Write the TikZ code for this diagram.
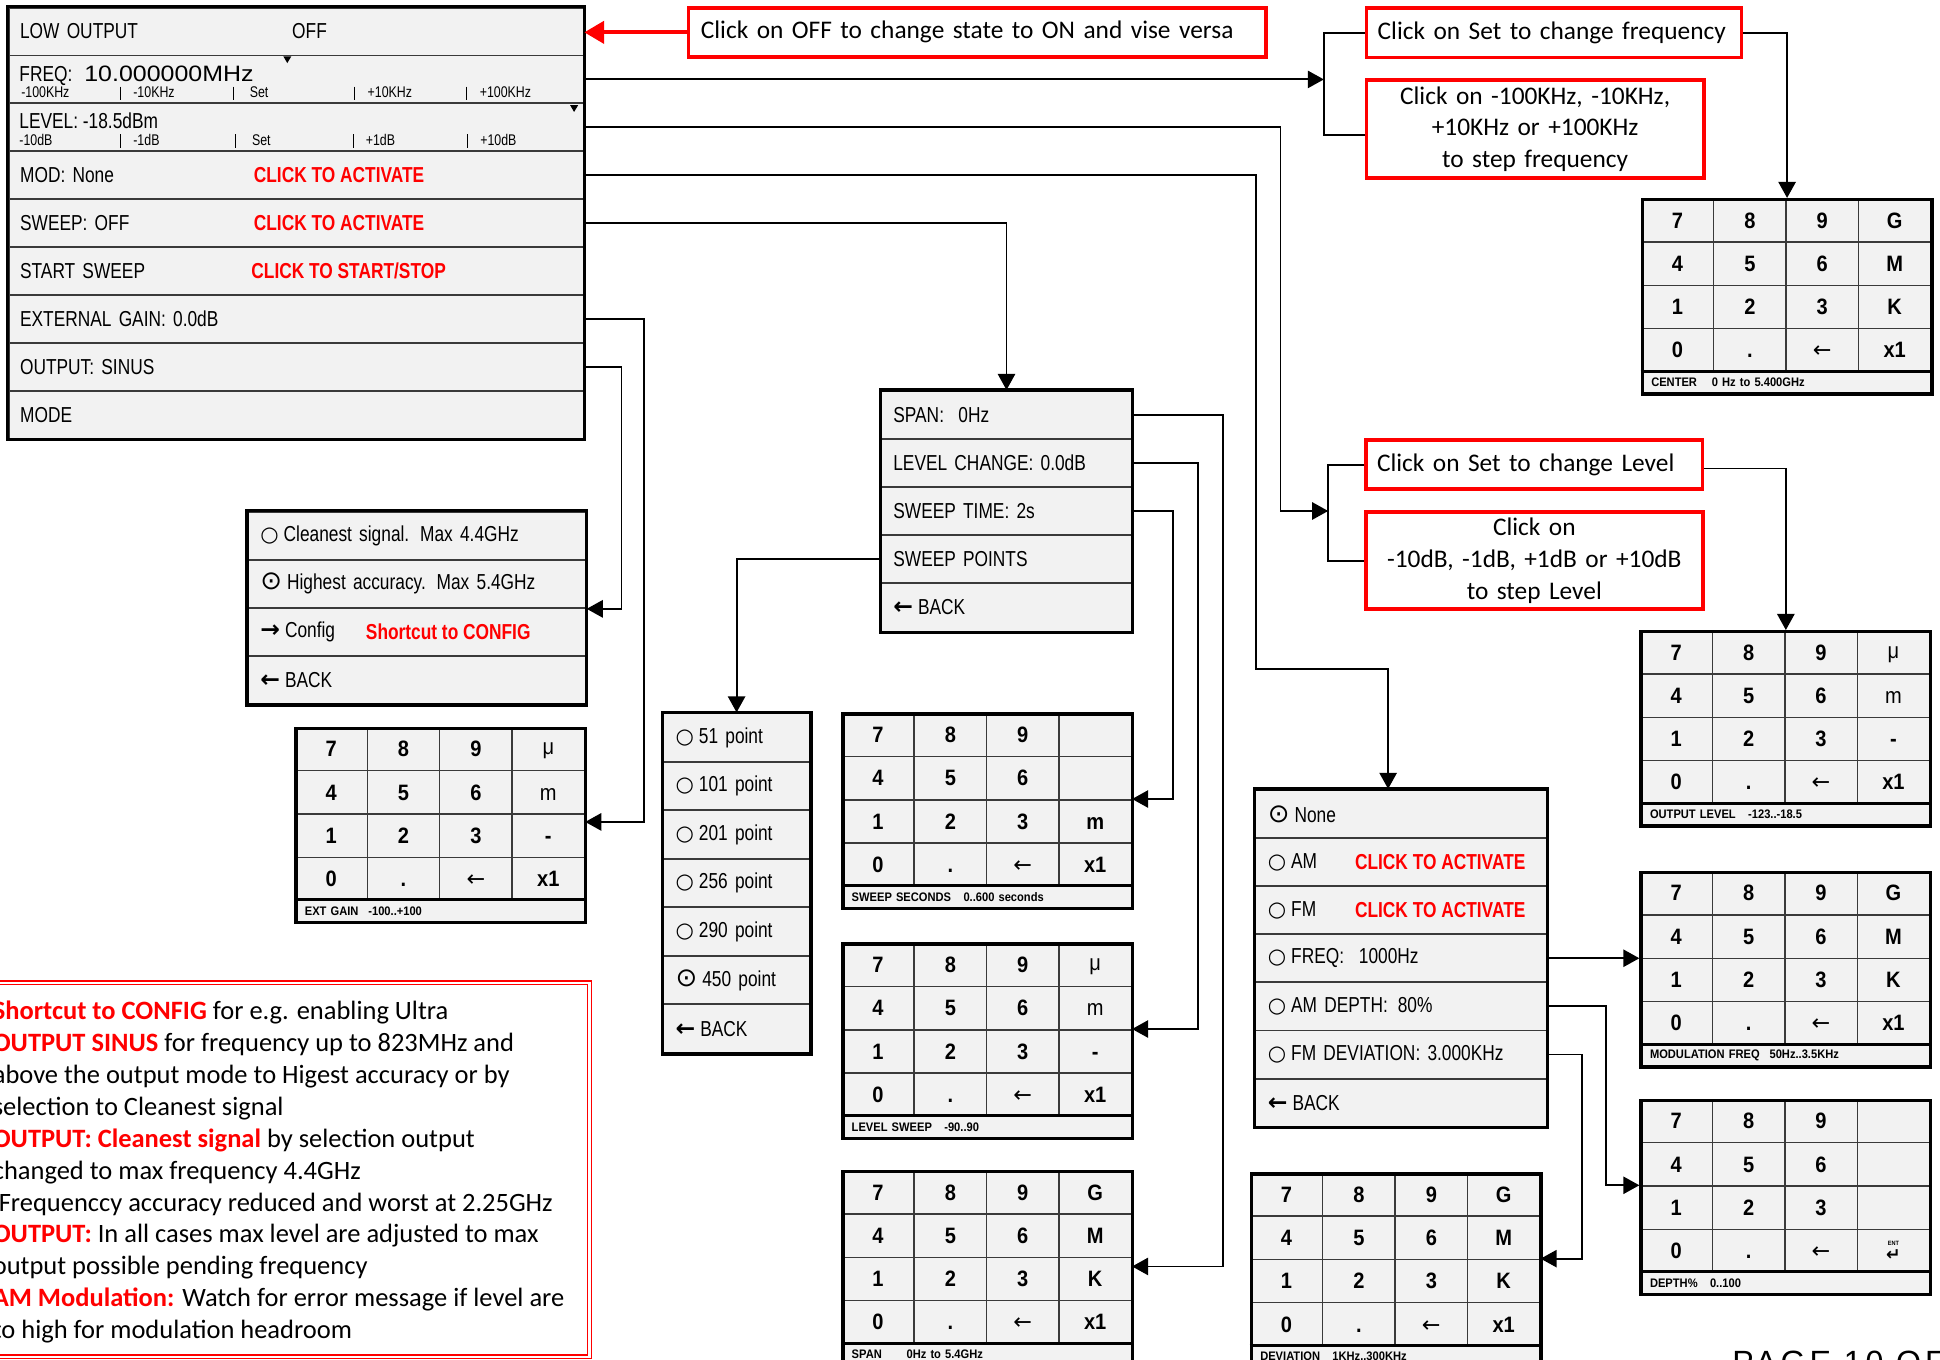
\documentclass[tikz,border=0pt]{standalone}
\usepackage{fontspec}
\setmainfont{Liberation Sans}
\newfontfamily\narrowfont[FakeStretch=0.8]{Liberation Sans}
\newfontfamily\widefont[FakeStretch=1.12]{Liberation Sans}
\newfontfamily\keyfam[FakeStretch=0.9]{Liberation Sans}
\newfontfamily\calibri{Carlito}
\newfontfamily\symfont{DejaVu Sans}
\usetikzlibrary{arrows.meta,calc}

\definecolor{rowfill}{HTML}{F2F2F2}
\definecolor{rowline}{HTML}{3A3A3A}
\definecolor{clickred}{HTML}{FF0000}

\newcommand\menufont{\narrowfont\fontsize{17.5}{20}\selectfont}
\newcommand\subfont{\narrowfont\fontsize{12.5}{14}\selectfont}
\newcommand\keyfont{\keyfam\bfseries\fontsize{18}{20}\selectfont}
\newcommand\footfont{\keyfam\bfseries\fontsize{10}{11}\selectfont}
\newcommand\callfont{\calibri\fontsize{20.5}{25.6}\selectfont}
\newcommand\notefont{\calibri\fontsize{21.4}{25.8}\selectfont}
\newcommand\radoff{{\symfont\fontsize{17}{17}\selectfont ○}\hspace{4pt}}
\newcommand\radon{{\symfont\fontsize{21}{17}\selectfont ⊙}\hspace{4pt}}
\newcommand\backarr{{\symfont\bfseries\fontsize{19}{17}\selectfont ←}\hspace{4pt}}
\newcommand\fwdarr{{\symfont\bfseries\fontsize{19}{17}\selectfont →}\hspace{4pt}}
\newcommand\keyarr{{\symfont\mdseries\fontsize{18}{18}\selectfont ←}}
\newcommand\litekey[1]{{\mdseries #1}}
\newcommand\entkey{\shortstack{{\fontsize{5}{5}\selectfont ENT}\\{\symfont\bfseries\fontsize{14}{14}\selectfont ↵}}}
\newcommand\redpart[1]{{\color{clickred}\bfseries #1}}

% keypad: name, x, y, fourth column (4 keys), footer
\newcommand\keypadgrid[8]{%
  \foreach \ka/\kb/\kc/\kd [count=\kr] in {7/8/9/{#4},4/5/6/{#5},1/2/3/{#6},0/./{\keyarr}/{#7}}{
    \node[padkey] (#1-\kr-1) at ($(#2,#3)+(0,{(\kr-1)*35})$) {\vphantom{0}\ka};
    \node[padkey] (#1-\kr-2) at ($(#2,#3)+(58.5,{(\kr-1)*35})$) {\vphantom{0}\kb};
    \node[padkey] (#1-\kr-3) at ($(#2,#3)+(117,{(\kr-1)*35})$) {\vphantom{0}\kc};
    \node[padkey] (#1-\kr-4) at ($(#2,#3)+(175.5,{(\kr-1)*35})$) {\vphantom{0}\kd};
  }
  \node[padfoot] (#1-foot) at ($(#2,#3)+(0,140)$) {#8};
  \draw[line width=2.4pt] (#1-foot.north west) -- (#1-foot.north east);
  \node[padframe] (#1) at (#2,#3) {};
}

\tikzset{
  wire/.style={line width=1.5pt},
  conn/.style={wire, -{Triangle[length=13pt,width=14pt]}},
  redarrow/.style={draw=clickred, line width=3pt, -{Triangle[length=16pt,width=18pt]}},
  row/.style={draw=rowline, line width=1.5pt, fill=rowfill, anchor=north west, inner ysep=0pt, align=left, font=\menufont},
  mainrow/.style={row, inner xsep=9.3pt, text width=446pt, minimum height=38.7pt},
  outrow/.style={row, inner xsep=10pt, text width=253pt, minimum height=38.9pt},
  swrow/.style={row, inner xsep=9.6pt, text width=182.9pt, minimum height=38.9pt},
  ptsrow/.style={row, inner xsep=10pt, text width=98.6pt, minimum height=39.2pt},
  modrow/.style={row, inner xsep=10pt, text width=215.4pt, minimum height=38.9pt},
  menuedge/.style={line width=2.8pt},
  lbl/.style={inner sep=0pt, anchor=base west, font=\menufont},
  sublbl/.style={inner sep=0pt, anchor=base west, font=\subfont},
  redlbl/.style={inner sep=0pt, anchor=west, font=\menufont\bfseries, text=clickred},
  padkey/.style={draw=rowline, line width=1.2pt, fill=rowfill, anchor=north west, minimum width=58.5pt, minimum height=35pt, inner sep=0pt, font=\keyfont},
  padfoot/.style={draw=black, line width=1.2pt, fill=rowfill, anchor=north west, minimum height=17pt, inner xsep=8pt, inner ysep=0pt, text width=218pt, align=left, font=\footfont},
  padframe/.style={draw=black, line width=2.8pt, anchor=north west, minimum width=234pt, minimum height=157pt, inner sep=0pt},
  redbox/.style={draw=clickred, line width=3pt, anchor=north west, inner ysep=0pt, font=\callfont},
  noteline/.style={inner sep=0pt, anchor=base west, font=\notefont},
}

\begin{document}
\begin{tikzpicture}[x=1pt, y=-1pt]
\useasboundingbox (0,0) rectangle (1568,1099);
\clip (0,0) rectangle (1568,1099);

% main menu
\foreach \txt [count=\i] in {LOW OUTPUT,{},{},MOD: None,SWEEP: OFF,START SWEEP,EXTERNAL GAIN: 0.0dB,OUTPUT: SINUS,MODE}
  \node[mainrow] (m\i) at (6.2,{5.4+(\i-1)*38.7}) {\txt};
\draw[menuedge] (m1.north west) rectangle (m9.south east);
\node[lbl, anchor=west] (offlbl) at ($(m1.west)+(229.8,0)$) {OFF};
\node[lbl] (frqlbl) at (15.5,65.5) {FREQ:};
\node[lbl, font=\widefont\fontsize{18}{20}\selectfont] (frqval) at (68,65.5) {10.000000MHz};
\foreach \sx/\st [count=\i] in {17/-100KHz,107.6/-10KHz,201.7/Set,297/+10KHz,387.6/+100KHz}
  \node[sublbl] (fs\i) at (\sx,79) {\st};
\foreach \bx in {97.4,188.7,286.8,377.4}
  \draw[line width=0.9pt] (\bx,70) -- (\bx,81);
\node[lbl] (lvllbl) at (15.5,103.7) {LEVEL: -18.5dBm};
\foreach \sx/\st [count=\i] in {15.5/-10dB,107.6/-1dB,203.5/Set,295.5/+1dB,388/+10dB}
  \node[sublbl] (ls\i) at (\sx,117.7) {\st};
\foreach \bx in {97.4,190,286,378}
  \draw[line width=0.9pt] (\bx,108.5) -- (\bx,120);
\fill (229,45.5) -- (235.5,45.5) -- (232.2,51) -- cycle;
\fill (460.8,85) -- (467.3,85) -- (464,90.5) -- cycle;
\node[redlbl] (modred) at ($(m4.west)+(198.8,0)$) {CLICK TO ACTIVATE};
\node[redlbl] (swred) at ($(m5.west)+(198.8,0)$) {CLICK TO ACTIVATE};
\node[redlbl] (startred) at ($(m6.west)+(196.8,0)$) {CLICK TO START/STOP};

% output menu
\foreach \txt [count=\i] in {\radoff Cleanest signal. Max 4.4GHz,\radon Highest accuracy. Max 5.4GHz,\fwdarr Config,\backarr BACK}
  \node[outrow] (out\i) at (199.7,{412.8+(\i-1)*38.9}) {\txt};
\draw[menuedge] (out1.north west) rectangle (out4.south east);
\node[redlbl] (cfgred) at ($(out3.west)+(95.9,0)$) {Shortcut to CONFIG};

% sweep menu
\foreach \txt [count=\i] in {SPAN:\ \ 0Hz,LEVEL CHANGE: 0.0dB,SWEEP TIME: 2s,SWEEP POINTS,\backarr BACK}
  \node[swrow] (sw\i) at (711.7,{315.2+(\i-1)*38.9}) {\txt};
\draw[menuedge] (sw1.north west) rectangle (sw5.south east);

% sweep points
\foreach \txt [count=\i] in {\radoff 51 point,\radoff 101 point,\radoff 201 point,\radoff 256 point,\radoff 290 point,\radon 450 point,\backarr BACK}
  \node[ptsrow] (pts\i) at (535.3,{575.8+(\i-1)*39.2}) {\txt};
\draw[menuedge] (pts1.north west) rectangle (pts7.south east);

% modulation menu
\foreach \txt [count=\i] in {\radon None,\radoff AM,\radoff FM,\radoff FREQ:\hspace{12pt}1000Hz,\radoff AM DEPTH:\hspace{8pt}80\%,\radoff FM DEVIATION: 3.000KHz,\backarr BACK}
  \node[modrow] (mod\i) at (1014,{637.6+(\i-1)*38.9}) {\txt};
\draw[menuedge] (mod1.north west) rectangle (mod7.south east);
\node[redlbl] (amred) at ($(mod2.west)+(81,0)$) {CLICK TO ACTIVATE};
\node[redlbl] (fmred) at ($(mod3.west)+(81,0)$) {CLICK TO ACTIVATE};

% keypads
\keypadgrid{kfreq}{1326}{160}{G}{M}{K}{x1}{CENTER\hspace{1.2em}0 Hz to 5.400GHz}
\keypadgrid{klvl}{1325}{509.2}{\litekey{μ}}{\litekey{m}}{-}{x1}{OUTPUT LEVEL\hspace{1em}-123..-18.5}
\keypadgrid{kmod}{1325}{703.9}{G}{M}{K}{x1}{MODULATION FREQ\hspace{0.8em}50Hz..3.5KHz}
\keypadgrid{kdep}{1325}{888}{}{}{}{\entkey}{DEPTH\%\hspace{1em}0..100}
\keypadgrid{kdev}{1010}{947.3}{G}{M}{K}{x1}{DEVIATION\hspace{1em}1KHz..300KHz}
\keypadgrid{kgain}{237.8}{587.3}{\litekey{μ}}{\litekey{m}}{-}{x1}{EXT GAIN\hspace{0.8em}-100..+100}
\keypadgrid{ksec}{679.8}{575.8}{}{}{m}{x1}{SWEEP SECONDS\hspace{1em}0..600 seconds}
\keypadgrid{klsw}{679.8}{761.7}{\litekey{μ}}{\litekey{m}}{-}{x1}{LEVEL SWEEP\hspace{1em}-90..90}
\keypadgrid{kspan}{679.8}{945.6}{G}{M}{K}{x1}{SPAN\hspace{2em}0Hz to 5.4GHz}

% red callouts
\node[redbox, inner xsep=10pt, text width=447pt, minimum height=39.7pt, align=left] (offbox) at (555,4.8) {\mbox{Click on OFF to change state to ON and vise versa}};
\node[redbox, inner xsep=9pt, text width=285pt, minimum height=40pt, align=left] (setfreq) at (1103,4.9) {\mbox{Click on Set to change frequency}};
\node[redbox, inner xsep=0pt, text width=272.5pt, minimum height=79pt, align=center] (stepfreq) at (1103,63.3) {Click on -100KHz, -10KHz,\\+10KHz or +100KHz\\to step frequency};
\node[redbox, inner xsep=9pt, text width=254pt, minimum height=39.7pt, align=left] (setlvl) at (1102.5,354.3) {\mbox{Click on Set to change Level}};
\node[redbox, inner xsep=0pt, text width=272.2pt, minimum height=78.7pt, align=center] (steplvl) at (1102.5,412.3) {Click on\\-10dB, -1dB, +1dB or +10dB\\to step Level};

% notes
\node[draw=clickred, double=white, double distance=2.2pt, line width=0.9pt, anchor=north west, minimum width=496pt, minimum height=302.3pt, inner sep=0pt] (notebox) at (-20,794) {};
\foreach \ln [count=\i] in {{\redpart{Shortcut to CONFIG} for e.g. enabling Ultra},{\redpart{OUTPUT SINUS} for frequency up to 823MHz and},{above the output mode to Higest accuracy or by},{selection to Cleanest signal},{\redpart{OUTPUT: Cleanest signal} by selection output},{changed to max frequency 4.4GHz},{\ Frequenccy accuracy reduced and worst at 2.25GHz},{\redpart{OUTPUT:} In all cases max level are adjusted to max},{output possible pending frequency},{\redpart{AM Modulation:} Watch for error message if level are},{to high for modulation headroom}}
  \node[noteline] (note\i) at (-6,{824+(\i-1)*25.8}) {\ln};
\node[anchor=north west, inner sep=0pt, font=\fontsize{26}{26}\selectfont\addfontfeature{LetterSpace=12}] (pagenum) at (1400,1092) {PAGE 10 OF 1};

% connectors
\coordinate (fbr) at (1070,64);
\coordinate (lbr) at (1073.5,413);
\coordinate (lvlturn) at (1035,413);
\coordinate (modturn) at (1015,541);
\draw[redarrow] (offbox.west) -- (offbox.west -| m1.east);
\draw[wire] (setfreq.west) -| (fbr) |- ($(stepfreq.west)+(0,4.5)$);
\draw[conn] (m2.east) -- (m2.east -| fbr);
\draw[conn] (setfreq.east) -| (kfreq.north);
\draw[wire] (setlvl.west) -| (lbr) |- (steplvl.west);
\draw[conn] (m3.east) -| (lvlturn) -- (lbr);
\draw[conn] ($(setlvl.east)+(0,3)$) -| (klvl.north);
\draw[conn] (m4.east) -| (modturn) -| ($(mod1.north)+(-10.5,0)$);
\draw[conn] (m5.east) -| (sw1.north);
\draw[conn] (m7.east) -- ++(48,0) |- ($(kgain-3-4.north east)+(0,7)$);
\draw[conn] (m8.east) -- ++(30,0) |- (out2.south east);
\draw[conn] (sw1.east) -- ++(73,0) |- ($(kspan-3-4.north east)+(0,8)$);
\draw[conn] (sw2.east) -- ++(53,0) |- (klsw-3-4.north east);
\draw[conn] (sw3.east) -- ++(33,0) |- (ksec-3-4.north east);
\draw[conn] (sw4.west) -| (pts1.north);
\draw[conn] (mod4.east) -- (mod4.east -| kmod.west);
\draw[conn] (mod5.east) -- ++(47,0) |- (kdep-3-1.north west);
\draw[conn] (mod6.east) -- ++(28,0) |- (kdev-3-4.north east);
\end{tikzpicture}
\end{document}
